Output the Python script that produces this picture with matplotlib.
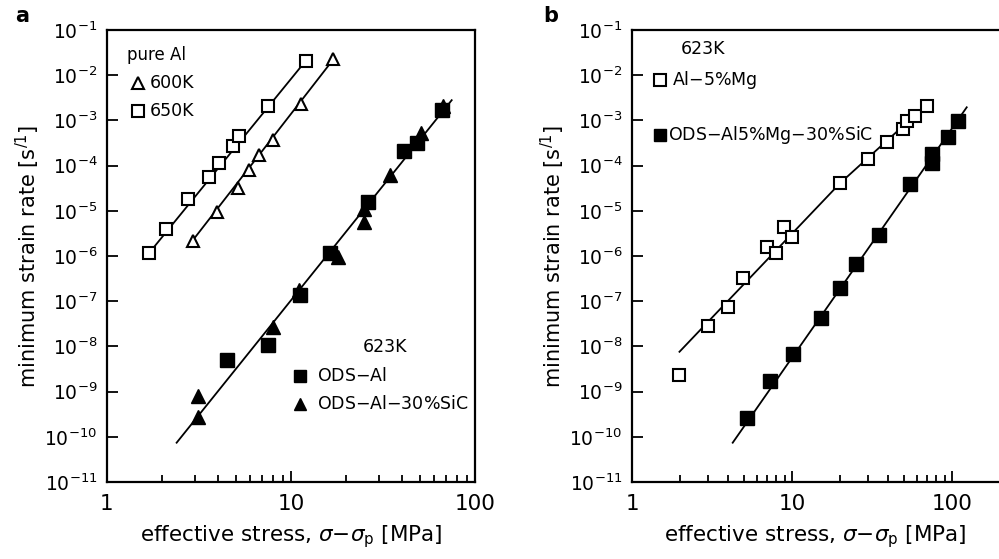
import matplotlib
matplotlib.use("Agg")
import matplotlib.pyplot as plt

# ---- panel a : pure Al and ODS-Al ----
al650_x = [1.69, 2.08, 2.77, 3.58, 4.06, 4.86, 5.24, 7.53, 12.0]
al650_y = [1.15e-6, 4.0e-6, 1.8e-5, 5.7e-5, 1.17e-4, 2.75e-4, 4.5e-4, 2.1e-3, 2.06e-2]
al600_x = [2.92, 3.98, 5.17, 5.91, 6.73, 8.01, 11.4, 17.0]
al600_y = [2.2e-6, 9.5e-6, 3.2e-5, 8.0e-5, 1.7e-4, 3.7e-4, 2.3e-3, 2.25e-2]
ods_x = [4.47, 7.47, 11.2, 16.2, 26.3, 41.1, 48.2, 65.9]
ods_y = [5.0e-9, 1.1e-8, 1.4e-7, 1.15e-6, 1.6e-5, 2.1e-4, 3.2e-4, 1.7e-3]
odssic_x = [3.14, 3.14, 8.01, 11.1, 17.9, 25.0, 25.0, 34.5, 50.7, 67.3]
odssic_y = [2.8e-10, 8.1e-10, 2.75e-8, 1.8e-7, 9.3e-7, 5.7e-6, 1.07e-5, 6.2e-5, 5.2e-4, 2.1e-3]
fit650_x = [1.69, 12.0]
fit650_y = [1.15e-6, 2.06e-2]
fit600_x = [2.92, 17.0]
fit600_y = [2.2e-6, 2.25e-2]
fitods_x = [2.39, 74.7]
fitods_y = [7.4e-11, 2.8e-3]

# ---- panel b : Al-5%Mg and ODS-Al5%Mg-30%SiC ----
mg_x = [1.98, 2.97, 3.96, 4.96, 6.95, 7.94, 8.95, 9.96, 20.0, 29.7, 39.4, 49.6, 52.1, 58.7, 69.5]
mg_y = [2.35e-9, 2.8e-8, 7.3e-8, 3.2e-7, 1.55e-6, 1.15e-6, 4.3e-6, 2.6e-6, 4.1e-5, 1.4e-4,
        3.3e-4, 6.5e-4, 9.9e-4, 1.25e-3, 2.1e-3]
mgsic_x = [5.26, 7.29, 10.2, 15.1, 20.0, 25.1, 35.1, 54.6, 74.7, 74.7, 94.8, 109.6]
mgsic_y = [2.6e-10, 1.7e-9, 6.7e-9, 4.2e-8, 2.0e-7, 6.6e-7, 2.9e-6, 3.9e-5, 1.12e-4, 1.8e-4,
           4.4e-4, 9.9e-4]
fitmg_x = [1.98, 20.0, 71.0]
fitmg_y = [7.6e-9, 4.1e-5, 2.4e-3]
fitmgsic_x = [4.26, 123.6]
fitmgsic_y = [7.4e-11, 1.95e-3]

ytick_vals = [10.0 ** e for e in range(-11, 0)]
ytick_labels = [r"$10^{%d}$" % e for e in range(-11, 0)]
xtick_vals = [1, 10, 100]
xtick_labels = ["1", "10", "100"]

W, H = 999, 559
fig = plt.figure(figsize=(W / 100, H / 100), dpi=100)


def make_axes(left, right, xmax):
    # pixel box of the axes
    ax = fig.add_axes([left / W, 1 - 482 / H, (right - left) / W, (482 - 30) / H])
    ax.set_xscale("log")
    ax.set_yscale("log")
    ax.set_xlim(1, xmax)
    ax.set_ylim(1e-11, 1e-1)
    ax.set_yticks(ytick_vals)
    ax.set_yticklabels(ytick_labels, fontsize=13.5)
    ax.yaxis.set_minor_locator(matplotlib.ticker.NullLocator())
    ax.set_xticks(xtick_vals)
    ax.set_xticklabels(xtick_labels, fontsize=15.5)
    ax.xaxis.set_minor_locator(matplotlib.ticker.LogLocator(base=10, subs=range(2, 10)))
    ax.xaxis.set_minor_formatter(matplotlib.ticker.NullFormatter())
    ax.tick_params(which="major", direction="in", length=8, width=1.3, pad=7)
    ax.tick_params(which="minor", direction="in", length=5, width=1.3)
    ax.tick_params(axis="x", pad=9)
    for s in ax.spines.values():
        s.set_linewidth(1.6)
    ax.set_xlabel(r"effective stress, $\sigma$$-$$\sigma_\mathregular{p}$ [MPa]",
                  fontsize=15.5, labelpad=6)
    ax.set_ylabel(r"minimum strain rate [s$^{/1}$]", fontsize=15, labelpad=2)
    return ax


lk = dict(color="black", lw=1.3)
ok = dict(ls="none", mfc="white", mec="black", mew=1.5, ms=9)
fk = dict(ls="none", mfc="black", mec="black", ms=9.5)

# panel a
ax1 = make_axes(107, 475, 100)
ax1.plot(fit650_x, fit650_y, **lk)
ax1.plot(fit600_x, fit600_y, **lk)
ax1.plot(fitods_x, fitods_y, **lk)
ax1.plot(al650_x, al650_y, marker="s", **ok)
ax1.plot(al600_x, al600_y, marker="^", **ok)
ax1.plot(ods_x, ods_y, marker="s", **fk)
ax1.plot(odssic_x, odssic_y, marker="^", **fk)

T = ax1.transAxes
ax1.text((127 - 107) / 368, (482 - 55) / 452, "pure Al", transform=T, fontsize=12, va="center")
ax1.plot((138 - 107) / 368, (482 - 83) / 452, transform=T, marker="^", **{**ok, "ms": 8})
ax1.text((150 - 107) / 368, (482 - 83) / 452, "600K", transform=T, fontsize=12.5, va="center")
ax1.plot((138 - 107) / 368, (482 - 111) / 452, transform=T, marker="s", **{**ok, "ms": 8})
ax1.text((150 - 107) / 368, (482 - 111) / 452, "650K", transform=T, fontsize=12.5, va="center")

ax1.text((385 - 107) / 368, (482 - 347) / 452, "623K", transform=T, fontsize=12.5,
         va="center", ha="center")
ax1.plot((300 - 107) / 368, (482 - 376) / 452, transform=T, marker="s", **{**fk, "ms": 8})
ax1.text((317 - 107) / 368, (482 - 376) / 452, "ODS$-$Al", transform=T, fontsize=12.5, va="center")
ax1.plot((300 - 107) / 368, (482 - 404) / 452, transform=T, marker="^", **{**fk, "ms": 8})
ax1.text((317 - 107) / 368, (482 - 404) / 452, "ODS$-$Al$-$30%SiC", transform=T, fontsize=12.5,
         va="center")

# panel b
ax2 = make_axes(632, 999, 10 ** (367 / 160))
ax2.spines["right"].set_visible(False)
ax2.plot(fitmg_x, fitmg_y, **lk)
ax2.plot(fitmgsic_x, fitmgsic_y, **lk)
ax2.plot(mg_x, mg_y, marker="s", **ok)
ax2.plot(mgsic_x, mgsic_y, marker="s", **fk)

T2 = ax2.transAxes
ax2.text((703 - 632) / 367, (482 - 49) / 452, "623K", transform=T2, fontsize=12.5,
         va="center", ha="center")
ax2.plot((660 - 632) / 367, (482 - 80) / 452, transform=T2, marker="s", **{**ok, "ms": 8})
ax2.text((672 - 632) / 367, (482 - 80) / 452, "Al$-$5%Mg", transform=T2, fontsize=12.5,
         va="center")
ax2.plot((660 - 632) / 367, (482 - 135) / 452, transform=T2, marker="s", **{**fk, "ms": 8})
ax2.text((668 - 632) / 367, (482 - 135) / 452, "ODS$-$Al5%Mg$-$30%SiC", transform=T2,
         fontsize=12.5, va="center")

fig.text(15 / W, 1 - 16 / H, "a", fontsize=15, fontweight="bold", va="center")
fig.text(543 / W, 1 - 16 / H, "b", fontsize=15, fontweight="bold", va="center")

fig.savefig("out.png", dpi=100)
